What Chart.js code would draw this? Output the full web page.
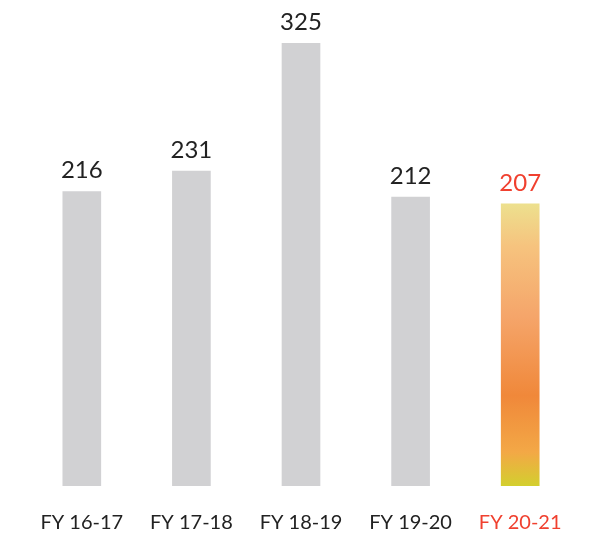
<!DOCTYPE html>
<html>
<head>
<meta charset="utf-8">
<script src="https://cdn.jsdelivr.net/npm/chart.js@4"></script>
<style>
  html, body { margin: 0; padding: 0; background: #fff; }
  #wrap { width: 614px; height: 544px; }
</style>
</head>
<body>
<div id="wrap"><canvas id="chart"></canvas></div>
<script>
var categories = ['FY 16-17', 'FY 17-18', 'FY 18-19', 'FY 19-20', 'FY 20-21'];
var values = [216, 231, 325, 212, 207];

var grey = '#d1d1d3';
var red = '#f0402f';

function barColor(ctx) {
    var chart = ctx.chart;
    if (ctx.dataIndex !== categories.length - 1) return grey;
    var area = chart.chartArea;
    var yScale = chart.scales.y;
    if (!area || !yScale) return '#f08a3a';
    var top = yScale.getPixelForValue(values[ctx.dataIndex]);
    if (!isFinite(top) || !isFinite(area.bottom)) return '#f08a3a';
    var g = chart.ctx.createLinearGradient(0, top, 0, area.bottom);
    g.addColorStop(0, '#ede08e');
    g.addColorStop(0.15, '#f6c37e');
    g.addColorStop(0.4, '#f5a56a');
    g.addColorStop(0.68, '#f0883a');
    g.addColorStop(0.88, '#f3a846');
    g.addColorStop(1, '#d3cf2e');
    return g;
}

// value labels above each bar
var valueLabels = {
    id: 'valueLabels',
    afterDatasetsDraw: function (chart) {
        var ctx = chart.ctx;
        var meta = chart.getDatasetMeta(0);
        ctx.save();
        ctx.font = '24px Lato';
        ctx.textAlign = 'center';
        ctx.textBaseline = 'bottom';
        meta.data.forEach(function (bar, i) {
            ctx.fillStyle = i === categories.length - 1 ? red : '#222';
            ctx.fillText(values[i], bar.x, bar.y - 9);
        });
        ctx.restore();
    }
};

new Chart(document.getElementById('chart'), {
    type: 'bar',
    data: {
        labels: categories,
        datasets: [{
            data: values,
            backgroundColor: barColor,
            barThickness: 38,
            borderWidth: 0
        }]
    },
    options: {
        responsive: true,
        maintainAspectRatio: false,
        animation: false,
        layout: { padding: { left: 27, right: 39, top: 43, bottom: 0 } },
        plugins: { legend: { display: false }, tooltip: { enabled: false } },
        scales: {
            x: {
                grid: { display: false, drawTicks: false },
                border: { display: false },
                afterFit: function (scale) { scale.height = 58; },
                ticks: {
                    padding: 25,
                    font: { family: 'Lato', size: 20 },
                    color: function (c) { return c.index === categories.length - 1 ? red : '#222'; }
                }
            },
            y: {
                display: false,
                min: 0,
                max: 325
            }
        }
    },
    plugins: [valueLabels]
});
</script>
</body>
</html>
